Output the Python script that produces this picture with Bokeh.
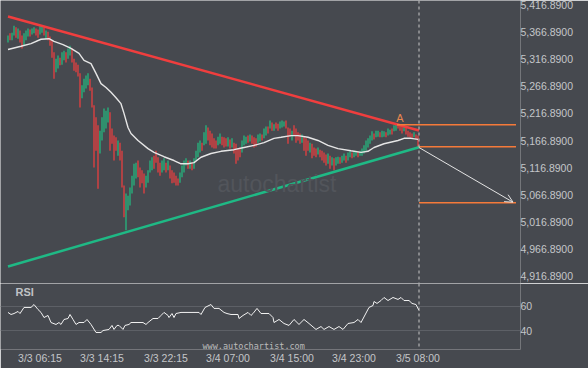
from bokeh.plotting import figure
from bokeh.layouts import column
from bokeh.models import (Range1d, FixedTicker, NumeralTickFormatter, Span, Label,
                          Arrow, OpenHead, ColumnDataSource)
from bokeh.embed import file_html
from bokeh.resources import INLINE
from bokeh.core.properties import value

BG = "#46494f"
TXT = "#c4c6c9"
FONT = "Liberation Sans"

# ---- candle data (15-minute bars) ----
opens = [5348, 5365, 5352, 5361, 5376, 5355, 5370, 5361, 5342, 5352,
         5359, 5372, 5363, 5365, 5374, 5372, 5363, 5366, 5376, 5355,
         5368, 5359, 5352, 5330, 5293, 5300, 5320, 5307, 5315, 5330,
         5318, 5324, 5337, 5318, 5311, 5307, 5291, 5245, 5256, 5263,
         5269, 5281, 5265, 5232, 5210, 5195, 5143, 5167, 5182, 5189,
         5200, 5219, 5189, 5176, 5173, 5139, 5163, 5148, 5084, 5001,
         5038, 5047, 5069, 5084, 5097, 5130, 5117, 5112, 5106, 5080,
         5089, 5108, 5112, 5139, 5148, 5136, 5126, 5108, 5112, 5126,
         5112, 5121, 5112, 5108, 5102, 5097, 5089, 5099, 5108, 5121,
         5130, 5115, 5126, 5115, 5130, 5136, 5145, 5163, 5158, 5161,
         5191, 5185, 5180, 5171, 5167, 5158, 5161, 5174, 5173, 5171,
         5156, 5169, 5154, 5163, 5161, 5152, 5154, 5145, 5158, 5161,
         5176, 5165, 5176, 5173, 5171, 5163, 5165, 5178, 5171, 5176,
         5193, 5189, 5200, 5185, 5200, 5198, 5189, 5191, 5193, 5204,
         5191, 5189, 5167, 5195, 5189, 5182, 5180, 5163, 5174, 5171,
         5167, 5145, 5161, 5154, 5152, 5141, 5150, 5148, 5145, 5141,
         5124, 5139, 5121, 5134, 5121, 5124, 5136, 5126, 5130, 5139,
         5130, 5136, 5145, 5136, 5139, 5147, 5139, 5139, 5143, 5148,
         5154, 5161, 5167, 5180, 5173, 5174, 5182, 5173, 5174, 5182,
         5176, 5178, 5189, 5184, 5185, 5198, 5197, 5193, 5184, 5191,
         5185, 5182, 5180, 5173, 5178, 5176]
closes = [5361, 5352, 5366, 5379, 5357, 5374, 5348, 5337, 5365, 5370,
          5374, 5359, 5374, 5376, 5361, 5357, 5378, 5379, 5361, 5370,
          5352, 5342, 5320, 5281, 5318, 5324, 5306, 5330, 5333, 5311,
          5337, 5342, 5311, 5296, 5293, 5285, 5228, 5269, 5281, 5287,
          5291, 5259, 5228, 5117, 5148, 5078, 5185, 5210, 5226, 5222,
          5228, 5148, 5161, 5130, 5148, 5167, 5130, 5080, 5025, 5069,
          5065, 5080, 5102, 5124, 5126, 5099, 5080, 5088, 5069, 5102,
          5112, 5130, 5136, 5115, 5126, 5108, 5102, 5130, 5134, 5108,
          5130, 5097, 5088, 5089, 5084, 5084, 5108, 5121, 5130, 5134,
          5115, 5130, 5112, 5134, 5148, 5163, 5167, 5148, 5182, 5195,
          5167, 5158, 5154, 5152, 5152, 5174, 5180, 5158, 5154, 5156,
          5173, 5152, 5171, 5143, 5124, 5130, 5136, 5167, 5176, 5174,
          5163, 5178, 5161, 5154, 5156, 5178, 5180, 5167, 5189, 5193,
          5180, 5204, 5185, 5197, 5189, 5185, 5202, 5204, 5202, 5189,
          5161, 5174, 5185, 5176, 5163, 5167, 5161, 5178, 5148, 5139,
          5148, 5163, 5134, 5139, 5136, 5154, 5136, 5130, 5126, 5121,
          5143, 5115, 5136, 5112, 5136, 5137, 5124, 5139, 5143, 5126,
          5145, 5147, 5134, 5148, 5148, 5136, 5148, 5152, 5158, 5167,
          5171, 5176, 5184, 5169, 5185, 5185, 5173, 5185, 5184, 5173,
          5189, 5187, 5178, 5195, 5198, 5189, 5185, 5180, 5195, 5178,
          5174, 5173, 5171, 5182, 5169, 5154]

# ---- moving average (white line) ----
ma_idx = [0, 6.5, 11.5, 16.5, 20.5, 23, 27.5, 31.5, 35.5, 38, 41.5, 44, 46.5,
          49, 51.5, 54, 56.5, 58, 60, 61.5, 65, 70, 73, 78, 83, 86.5, 90, 93,
          96.5, 101.5, 106.5, 113, 118, 123, 128, 133, 136.5, 141.5, 145, 150,
          155, 160, 165, 171.5, 176.5, 180, 183, 188, 195, 198, 201.5, 205]
ma_val = [5335, 5341, 5346, 5354, 5355, 5350, 5344, 5337, 5328, 5315, 5309,
          5291, 5272, 5265, 5256, 5246, 5235, 5217, 5191, 5180, 5167, 5152,
          5145, 5137, 5130, 5124, 5124, 5126, 5136, 5143, 5147, 5150, 5154,
          5158, 5163, 5171, 5173, 5176, 5176, 5173, 5167, 5158, 5152, 5148,
          5145, 5147, 5154, 5161, 5167, 5171, 5171, 5169]

# ---- RSI ----
rsi_idx = [0, 1.5, 3, 5, 6, 8, 11.5, 13, 15, 16.5, 18, 20, 21.5, 24, 25.5,
           26.5, 28, 30, 31, 32.5, 34, 35.5, 38, 39.5, 41.5, 44, 46.5, 47.5,
           50.5, 52, 53, 54.5, 55.5, 57.5, 58.5, 60.5, 61.5, 67.5, 69, 70,
           72.5, 75, 76.5, 78, 80, 80.5, 82, 83, 84, 86.5, 95.5, 96.5, 98.5,
           101.5, 103, 105.5, 108, 109.5, 111.5, 115, 115.5, 117.5, 120,
           121.5, 122.5, 124.5, 126.5, 130.5, 132.5, 133, 135.5, 138, 140.5,
           143, 145.5, 148, 150.5, 154, 156.5, 158, 160.5, 163, 165.5, 167.5,
           170, 173, 175, 176.5, 180.5, 182.5, 183, 184.5, 186.5, 188, 190,
           192.5, 195, 196.5, 198, 200.5, 202, 204, 205.5]
rsi_val = [55.1, 53.4, 54.2, 55.9, 54.2, 59.2, 59.2, 61.6, 57.5, 55.1, 50.9,
           52.6, 46.8, 45.2, 46.8, 45.2, 49.3, 50.1, 53.4, 49.3, 45.2, 46.8,
           46.8, 49.3, 45.2, 38.6, 38.6, 40.2, 41.1, 44.4, 41.1, 44.4, 44.4,
           41.1, 44.4, 45.2, 46.8, 46.8, 45.2, 46.8, 50.1, 50.1, 52.6, 55.1,
           52.6, 50.9, 54.2, 50.9, 54.2, 55.1, 55.1, 53.4, 59.2, 61.6, 58.4,
           58.4, 55.1, 54.2, 53.4, 53.4, 50.1, 52.6, 55.1, 52.6, 54.2, 58.4,
           54.2, 54.2, 50.9, 46.8, 49.3, 46.0, 44.4, 49.3, 45.2, 49.3, 46.0,
           41.1, 43.5, 41.1, 43.5, 41.1, 43.5, 41.1, 46.0, 46.8, 49.3, 46.8,
           59.2, 60.8, 64.1, 62.5, 64.9, 67.4, 64.9, 67.4, 65.8, 67.4, 64.9,
           64.9, 62.5, 61.6, 56.7]

# ---- pattern (triangle) ----
resist_x = [0, 205.5]
resist_y = [5396.0, 5185.4]
support_x = [0, 205.5]
support_y = [4934.2, 5154.6]
level_start = [194.5, 205.5, 205.5]
level_end = [254, 254, 254]
level_val = [5196.0, 5155.3, 5051.9]
arrow_x = [205.5, 252.5]
arrow_y = [5154.0, 5053.0]
a_point = (196, 5209)
now_idx = 205.5

price_ticks = [4916.89, 4966.89, 5016.89, 5066.89, 5116.89, 5166.89,
               5216.89, 5266.89, 5316.89, 5366.89, 5416.89]
rsi_ticks = [40, 60]
x_tick_idx = [16, 47, 79, 110, 142, 173, 205]
x_tick_lab = ["3/3 06:15", "3/3 14:15", "3/3 22:15", "3/4 07:00",
              "3/4 15:00", "3/4 23:00", "3/5 08:00"]

x_range = Range1d(-3.75, 256.25)

# ---------------- main price panel ----------------
p = figure(width=588, height=283, x_range=x_range, y_range=Range1d(4902.8, 5425.6),
           output_backend="svg", toolbar_location=None, x_axis_location=None,
           y_axis_location="right", min_border_left=0, min_border_top=0,
           min_border_bottom=0, min_border_right=68,
           background_fill_color=BG, border_fill_color=BG, outline_line_color=None)
p.grid.visible = False
ya = p.yaxis[0]
ya.ticker = FixedTicker(ticks=price_ticks)
ya.formatter = NumeralTickFormatter(format="0,0.0000")
ya.axis_line_color = None
ya.major_tick_line_color = None
ya.minor_tick_line_color = None
ya.major_tick_out = 0
ya.major_tick_in = 0
ya.major_label_standoff = 0
ya.major_label_text_color = TXT
ya.major_label_text_font = FONT
ya.major_label_text_font_size = "10.5px"

# watermark
p.add_layout(Label(x=217, y=100, x_units="screen", y_units="screen", text="autochartist",
                   text_font=FONT, text_font_size="23px", text_color="#52555b",
                   text_baseline="middle"))

idx = list(range(len(opens)))
cols = ["#22c083" if c > o else "#f53f3f" for o, c in zip(opens, closes)]
src = ColumnDataSource(dict(i=idx, o=opens, c=closes, col=cols))
p.segment(x0="i", y0="o", x1="i", y1="c", line_color="col", line_width=1.2,
          line_cap="butt", source=src)

p.line(ma_idx, ma_val, line_color="#e6e6e6", line_width=1.4)
p.line(resist_x, resist_y, line_color="#f03e3e", line_width=2.5)
p.line(support_x, support_y, line_color="#1fb985", line_width=2.5)
p.segment(x0=level_start, y0=level_val, x1=level_end, y1=level_val,
          line_color="#f57a3a", line_width=1.5)
p.add_layout(Arrow(end=OpenHead(size=8, line_color="#e4e4e4", line_width=1),
                   x_start=arrow_x[0], y_start=arrow_y[0], x_end=arrow_x[1], y_end=arrow_y[1],
                   line_color="#e4e4e4", line_width=1))
p.text(x=[a_point[0]], y=[a_point[1]], text=["A"], text_color="#e8874f",
       text_font=value(FONT), text_font_size="11px", text_align="center",
       text_baseline="middle")
p.add_layout(Span(location=now_idx, dimension="height", line_color="#c8c8c8",
                  line_dash="3 3", line_width=1))

# ---------------- RSI panel ----------------
r = figure(width=588, height=85, x_range=x_range, y_range=Range1d(24.6, 78.9),
           output_backend="svg", toolbar_location=None, y_axis_location="right",
           min_border_left=0, min_border_top=0, min_border_bottom=19, min_border_right=68,
           background_fill_color=BG, border_fill_color=BG, outline_line_color=None)
r.xgrid.visible = False
r.ygrid.ticker = FixedTicker(ticks=rsi_ticks)
r.ygrid.grid_line_color = "#5d6066"
ry = r.yaxis[0]
ry.ticker = FixedTicker(ticks=rsi_ticks)
ry.axis_line_color = None
ry.major_tick_line_color = None
ry.minor_tick_line_color = None
ry.major_tick_out = 0
ry.major_tick_in = 0
ry.major_label_standoff = 0
ry.major_label_text_color = TXT
ry.major_label_text_font = FONT
ry.major_label_text_font_size = "10.5px"
rx = r.xaxis[0]
rx.ticker = FixedTicker(ticks=x_tick_idx)
rx.major_label_overrides = {k: v for k, v in zip(x_tick_idx, x_tick_lab)}
rx.axis_line_color = None
rx.major_tick_line_color = None
rx.minor_tick_line_color = None
rx.major_tick_out = 0
rx.major_label_standoff = 2
rx.major_label_text_color = TXT
rx.major_label_text_font = FONT
rx.major_label_text_font_size = "10.5px"

r.line(rsi_idx, rsi_val, line_color="#f2f2f2", line_width=1)
r.add_layout(Span(location=now_idx, dimension="height", line_color="#c8c8c8",
                  line_dash="3 3", line_width=1))
r.add_layout(Label(x=15, y=58, x_units="screen", y_units="screen", text="RSI",
                   text_font=FONT, text_font_size="11px", text_font_style="bold",
                   text_color="#c0c2c5", text_baseline="middle"))
r.add_layout(Label(x=202, y=4, x_units="screen", y_units="screen", text="www.autochartist.com",
                   text_font="DejaVu Sans Mono", text_font_size="8.5px", text_color="#bcbcbc",
                   text_baseline="middle"))

layout = column(p, r, spacing=0)
open("out.html", "w").write(file_html(layout, INLINE))
